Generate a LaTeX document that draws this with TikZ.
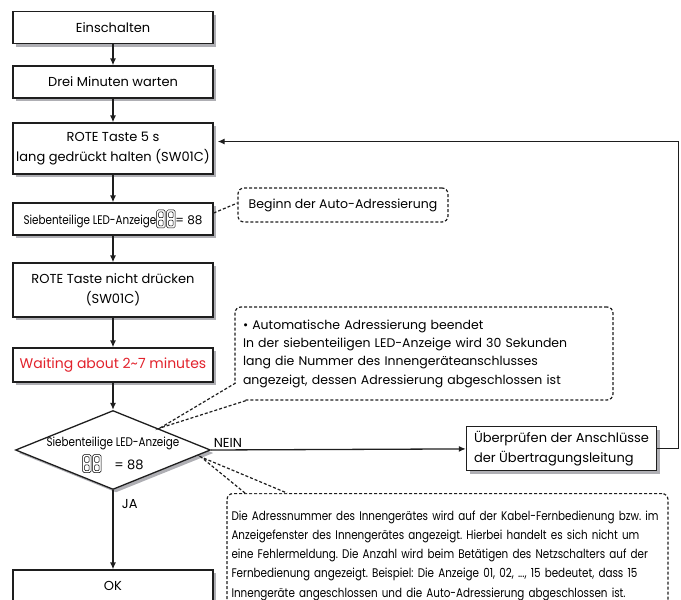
\documentclass[tikz,border=0pt]{standalone}
\usepackage{fontspec}
\setmainfont{Poppins}
\newfontfamily\narrowfont[FakeStretch=0.83]{Poppins}
\usetikzlibrary{positioning,shapes.geometric,arrows.meta,shadows}
\definecolor{boxline}{RGB}{30,30,30}
\definecolor{shadowgray}{RGB}{175,175,180}
\definecolor{waitred}{RGB}{226,34,44}

\newcommand{\ledpair}{\tikz[baseline=3pt,x=1pt,y=1pt,line width=0.5pt]{
  \foreach \d in {0,10}{
    \draw[rounded corners=1.5pt] (\d,0) rectangle ++(8.5,18);
    \draw[rounded corners=1pt] (\d+2,2) rectangle ++(4.5,5.8);
    \draw[rounded corners=1pt] (\d+2,10.2) rectangle ++(4.5,5.8);
  }}}

\begin{document}
\frenchspacing
\begin{tikzpicture}[x=1pt,y=-1pt,
  every node/.style={font=\fontsize{13}{20}\selectfont},
  stepbox/.style={draw=boxline, line width=1.3pt, fill=white, minimum width=200pt, align=center, inner sep=2pt,
    drop shadow={shadow xshift=3pt, shadow yshift=-3pt, fill=shadowgray, opacity=1}},
  decide/.style={diamond, draw=boxline, line width=1.3pt, fill=white, minimum width=195pt, minimum height=79pt, inner sep=0pt,
    drop shadow={shadow xshift=3pt, shadow yshift=-3pt, fill=shadowgray, opacity=1}},
  note/.style={draw=boxline, line width=1.2pt, dash pattern=on 3pt off 2pt, rounded corners=6pt, align=left, inner sep=4pt},
  tail/.style={draw=boxline, line width=1.2pt, dash pattern=on 3pt off 2pt},
  arr/.style={draw=boxline, line width=1.3pt, -{Latex[length=7pt,width=6pt]}}
]
  \useasboundingbox (0,0) rectangle (681,600);

  \node[stepbox, minimum height=32pt] (ein) at (113,27.5) {Einschalten};
  \node[stepbox, minimum height=32pt] (drei) at (113,82) {Drei Minuten warten};
  \node[stepbox, minimum height=51pt] (rote) at (113,148.5) {ROTE Taste 5 s\\lang gedrückt halten (SW01C)};
  \node[stepbox, minimum height=32pt] (sieben) at (113,219)
       {{\narrowfont\fontsize{12.5}{14}\selectfont Siebenteilige LED-Anzeige}\ledpair{\fontsize{12}{14}\selectfont = 88}};
  \node[stepbox, minimum height=54pt] (nicht) at (113,290) {ROTE Taste nicht drücken\\(SW01C)};
  \node[stepbox, minimum height=34pt, text=waitred, font=\fontsize{14}{16}\selectfont] (wait) at (113,365)
       {Waiting about 2\char`~7 minutes};
  \node[decide] (dec) at (113,450) {};
  \node[align=center, inner sep=0pt] (dectext) at (113,455)
       {{\narrowfont\fontsize{12.5}{14}\selectfont Siebenteilige LED-Anzeige}\\[3pt]\ledpair\quad = 88};
  \node[stepbox, minimum height=32pt] (ok) at (113,586) {OK};
  \node[stepbox, minimum width=190pt, minimum height=44pt, align=left] (pruef) at (561.5,448.5)
       {Überprüfen der Anschlüsse\\der Übertragungsleitung};

  \node[note, minimum width=210pt, minimum height=34pt, align=center, font=\fontsize{12.5}{15}\selectfont] (beginn) at (343,205)
       {Beginn der Auto-Adressierung};
  \node[note, minimum width=378pt, minimum height=93pt, text width=362pt, font=\fontsize{12.5}{18.3}\selectfont] (auto) at (424,353.5)
       {• Automatische Adressierung beendet\\
        In der siebenteiligen LED-Anzeige wird 30 Sekunden\\
        lang die Nummer des Innengeräteanschlusses\\
        angezeigt, dessen Adressierung abgeschlossen ist};
  \node[note, minimum width=441pt, minimum height=124pt, anchor=north, text width=432pt,
        font=\narrowfont\fontsize{12.5}{19.2}\selectfont] (adress) at (447.5,493)
       {Die Adressnummer des Innengerätes wird auf der Kabel-Fernbedienung bzw. im\\
        Anzeigefenster des Innengerätes angezeigt. Hierbei handelt es sich nicht um\\
        eine Fehlermeldung. Die Anzahl wird beim Betätigen des Netzschalters auf der\\
        Fernbedienung angezeigt. Beispiel: Die Anzeige 01, 02, ..., 15 bedeutet, dass 15\\
        Innengeräte angeschlossen und die Auto-Adressierung abgeschlossen ist.};

  \draw[arr] (ein) -- (drei);
  \draw[arr] (drei) -- (rote);
  \draw[arr] (rote) -- (sieben);
  \draw[arr] (sieben) -- (nicht);
  \draw[arr] (nicht) -- (wait);
  \draw[arr] (wait) -- (dec.north);
  \draw[arr] (dec.south) -- node[pos=0.17, right=5pt] (ja) {JA} (ok);
  \draw[arr] (dec.east) -- node[pos=0, anchor=south west, inner sep=2pt] (nein) {NEIN} (pruef);
  \draw[arr] (pruef.east) -- ++(21,0) |- ([shift={(4pt,7pt)}]rote.east);

  \coordinate (autotip) at (160,428);
  \coordinate (autoa) at (235.6,383);
  \coordinate (autob) at (246,400.6);
  \coordinate (adrtip) at (201,457);
  \coordinate (adra) at (245,493);
  \coordinate (adrb) at (287,493);
  \fill[white] (autoa) -- (autotip) -- (autob) -- cycle;
  \fill[white] (adra) -- (adrtip) -- (adrb) -- cycle;
  \draw[tail] ([yshift=6pt]sieben.east) -- ([yshift=2pt]beginn.west);
  \draw[tail] (autoa) -- (autotip) -- (autob);
  \draw[tail] (adra) -- (adrtip) -- (adrb);
\end{tikzpicture}
\end{document}
